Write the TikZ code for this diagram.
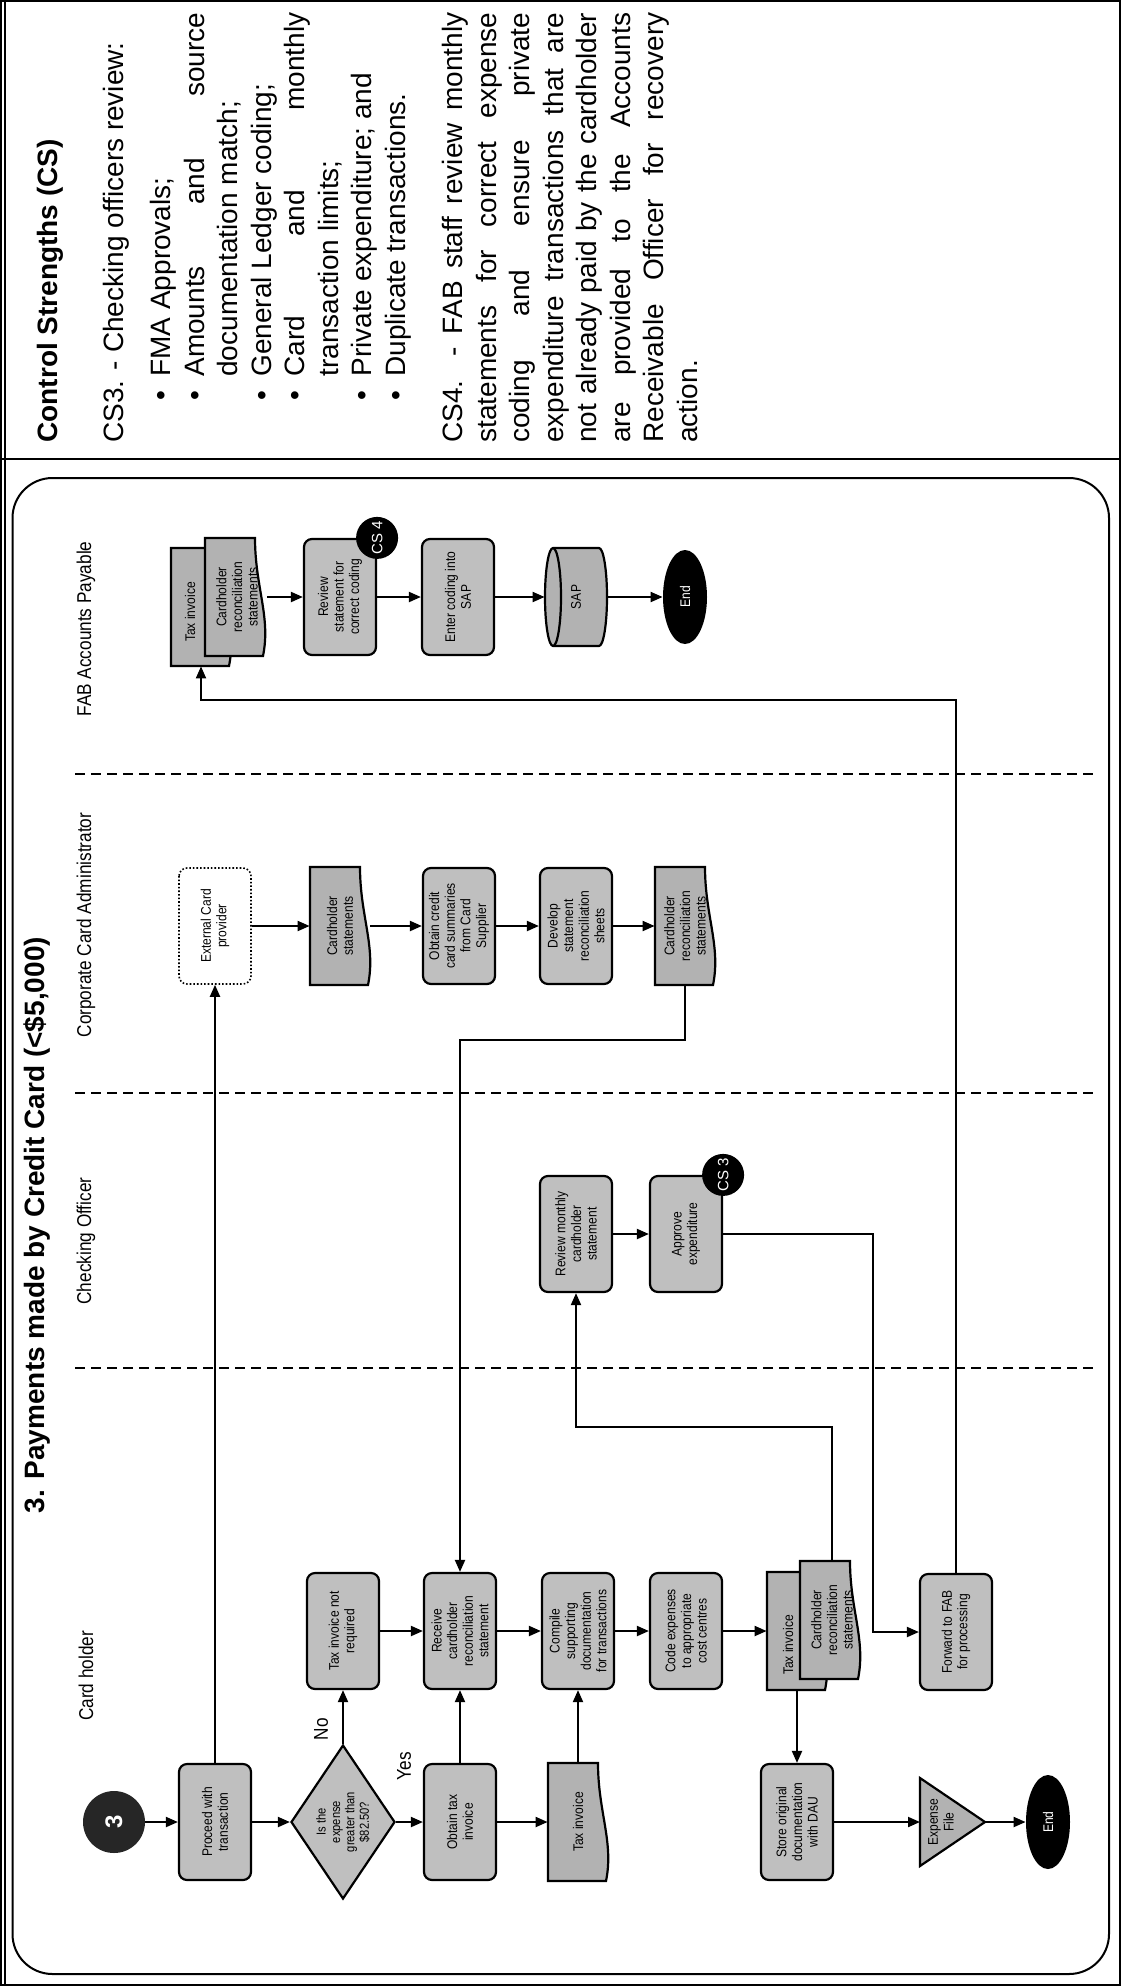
\documentclass[tikz,border=0pt]{standalone}
\usepackage{fontspec}
\setmainfont{Liberation Sans}
\newfontfamily\narrowfont{Liberation Sans}[FakeStretch=0.86]
\usetikzlibrary{arrows.meta,shapes.geometric}

\newcommand{\boxfont}{\narrowfont\fontsize{7}{7.8}\selectfont}
\newcommand{\csitem}[1]{\par{\leftskip=33pt\noindent\llap{\textbullet\hspace{7pt}}#1\par}}

\tikzset{
	docshape/.pic={\draw[docline] (-30,59) -- (-30,-59) -- (20,-59) .. controls (20,-10) and (36,20) .. (28,59) -- cycle;},
	dbshape/.pic={
		\draw[docline] (-23,-49) -- (23,-49) arc[start angle=-90, end angle=90, x radius=8, y radius=49] -- (-23,49) arc[start angle=90, end angle=270, x radius=8, y radius=49] -- cycle;
		\draw[line width=1.1pt] (-23,-49) arc[start angle=-90, end angle=90, x radius=8, y radius=49];
	}
}

\begin{document}
\begin{tikzpicture}[x=0.5pt, y=-0.5pt, >={Triangle[length=6pt,width=5pt]}]
		\tikzstyle{process} = [rectangle, rounded corners=4pt, draw, line width=1.1pt, fill=gray!50, rotate=90, minimum width=58pt, minimum height=36pt, inner sep=1pt, align=center, font=\boxfont]
		\tikzstyle{outside} = [process, fill=white, line width=0.8pt, densely dotted]
		\tikzstyle{decision} = [diamond, aspect=1.5, draw, line width=1.1pt, fill=gray!50, rotate=90, minimum width=77pt, minimum height=52pt, inner sep=0pt, align=center, font=\narrowfont\fontsize{6.5}{7.2}\selectfont]
		\tikzstyle{docnode} = [rotate=90, minimum width=59pt, minimum height=30pt, inner sep=0pt, align=center, font=\boxfont]
		\tikzstyle{docline} = [draw, line width=1.1pt, fill=gray!60]
		\tikzstyle{terminal} = [ellipse, fill=black, text=white, rotate=90, minimum width=47pt, minimum height=22pt, inner sep=0pt, font=\boxfont]
		\tikzstyle{startpoint} = [circle, fill=black!85, text=white, rotate=90, minimum size=31pt, inner sep=0pt, font=\bfseries\fontsize{12}{12}\selectfont]
		\tikzstyle{badge} = [circle, fill=black, text=white, rotate=90, minimum size=21pt, inner sep=0pt, font=\fontsize{7.5}{8}\selectfont]
		\tikzstyle{lanelabel} = [rotate=90, font=\narrowfont\fontsize{10}{12}\selectfont]
		\tikzstyle{smalltext} = [rotate=90, inner sep=0pt, align=center, font=\boxfont]
		\tikzstyle{lane} = [line width=0.9pt, dash pattern=on 5pt off 3pt]
		\tikzstyle{flow} = [->, line width=1pt]

		\useasboundingbox (0,0) rectangle (1121,1986);

		% Page border and the two panels
		\draw[line width=0.8pt] (1,1) rectangle (1120,1985);
		\draw[line width=0.6pt] (5,1) -- (5,1985);
		\draw[line width=0.8pt] (1,459) -- (1120,459);

		% Control strengths
		\node[rotate=90, anchor=north west, inner sep=0pt, text width=215pt, align=justify, font=\fontsize{14}{16.75}\selectfont] (cstext) at (37,443) {%
			\noindent{\bfseries Control Strengths (CS)}\par\vspace{16pt}
			\noindent CS3. - Checking officers review:\par\vspace{7pt}
			\csitem{FMA Approvals;}
			\csitem{Amounts and source\linebreak documentation match;}
			\csitem{General Ledger coding;}
			\csitem{Card and monthly\linebreak transaction limits;}
			\csitem{Private expenditure; and}
			\csitem{Duplicate transactions.}
			\vspace{12pt}
			\noindent CS4. - FAB staff review monthly\linebreak statements for correct expense\linebreak coding and ensure private\linebreak expenditure transactions that are\linebreak not already paid by the cardholder\linebreak are provided to the Accounts\linebreak Receivable Officer for recovery\linebreak action.\par};

		% Process frame and title
		\draw[line width=1pt, rounded corners=20pt] (12.5,478) rectangle (1109,1974);
		\node[rotate=90, font=\bfseries\fontsize{14}{16}\selectfont] (title) at (37,1225) {3. Payments made by Credit Card (<\$5,000)};

		% Swimlanes
		\draw[lane] (75,774) -- (1093,774);
		\draw[lane] (75,1093) -- (1093,1093);
		\draw[lane] (75,1368) -- (1093,1368);
		\node[lanelabel] (laneF) at (86,629) {FAB Accounts Payable};
		\node[lanelabel] (laneC) at (86,925) {Corporate Card Administrator};
		\node[lanelabel] (laneO) at (86,1241) {Checking Officer};
		\node[lanelabel] (laneH) at (86,1676) {Card holder};

		% FAB Accounts Payable
		\pic at (201,607) {docshape};
		\pic at (235,597) {docshape};
		\node[docnode] (backF) at (201,607) {};
		\node[smalltext] (taxF) at (190,612) {Tax invoice};
		\node[docnode] (frontF) at (237,597) {Cardholder\\reconciliation\\statements};
		\node[process] (reviewst) at (340,597) {Review\\statement for\\correct coding};
		\node[badge] (cs4) at (reviewst.south east) {CS 4};
		\node[process] (enter) at (458,597) {Enter coding into\\SAP};
		\pic at (576,597) {dbshape};
		\node[rotate=90, minimum width=49pt, minimum height=31pt, inner sep=0pt, font=\boxfont] (sap) at (576,597) {SAP};
		\node[terminal] (endF) at (685,597) {End};

		% Corporate Card Administrator
		\node[outside] (extcard) at (215,926) {External Card\\provider};
		\pic at (340,926) {docshape};
		\node[docnode] (chstmt) at (340,926) {Cardholder\\statements};
		\node[process] (obtaincc) at (459,926) {Obtain credit\\card summaries\\from Card\\Supplier};
		\node[process] (develop) at (576,926) {Develop\\statement\\reconciliation\\sheets};
		\pic at (685,926) {docshape};
		\node[docnode] (reconC) at (685,926) {Cardholder\\reconciliation\\statements};

		% Checking Officer
		\node[process] (reviewmon) at (576,1234) {Review monthly\\cardholder\\statement};
		\node[process] (approve) at (686,1234) {Approve\\expenditure};
		\node[badge] (cs3) at (approve.south east) {CS 3};

		% Card holder
		\node[startpoint] (start) at (114,1822) {3};
		\node[process] (proceed) at (215,1822) {Proceed with\\transaction};
		\node[decision] (decide) at (343,1822) {Is the\\expense\\greater than\\\$82.50?};
		\node[process] (notreq) at (343,1631) {Tax invoice not\\required};
		\node[process] (obtain) at (460,1822) {Obtain tax\\invoice};
		\node[process] (receive) at (460,1631) {Receive\\cardholder\\reconciliation\\statement};
		\pic at (578,1822) {docshape};
		\node[docnode] (taxinv) at (578,1822) {Tax invoice};
		\node[process] (compile) at (578,1631) {Compile\\supporting\\documentation\\for transactions};
		\node[process] (codeexp) at (686,1631) {Code expenses\\to appropriate\\cost centres};
		\pic at (797,1631) {docshape};
		\pic at (830,1620) {docshape};
		\node[docnode] (backA) at (797,1631) {};
		\node[smalltext] (taxA) at (788,1645) {Tax invoice};
		\node[docnode] (frontA) at (832,1620) {Cardholder\\reconciliation\\statements};
		\node[process] (store) at (797,1822) {Store original\\documentation\\with DAU};
		\node[process] (forward) at (956,1632) {Forward to FAB\\for processing};
		\draw[docline] (920,1778) -- (985,1822) -- (920,1866) -- cycle;
		\node[smalltext] (expfile) at (941,1822) {Expense\\File};
		\coordinate (fileIn) at (920,1822);
		\coordinate (fileTip) at (985,1822);
		\node[terminal] (endA) at (1048,1822) {End};
		\node[lanelabel] (no) at (321,1729) {No};
		\node[lanelabel] (yes) at (404,1766) {Yes};

		% Bends of the long connectors
		\coordinate (bendA) at (700,1427);
		\coordinate (bendB) at (873,1400);
		\coordinate (bendC) at (600,700);
		\coordinate (bendD) at (560,1040);

		% Connectors
		\draw[flow] (start) -- (proceed);
		\draw[flow] (proceed) -- (decide);
		\draw[flow] (decide) -- (obtain);
		\draw[flow] (decide) -- (notreq);
		\draw[flow] (obtain) -- (receive);
		\draw[flow] (obtain) -- (taxinv);
		\draw[flow] (notreq) -- (receive);
		\draw[flow] (receive) -- (compile);
		\draw[flow] (taxinv) -- (compile);
		\draw[flow] (compile) -- (codeexp);
		\draw[flow] (codeexp) -- (backA);
		\draw[flow] (backA) -- (store);
		\draw[flow] (store) -- (fileIn);
		\draw[flow] (fileTip) -- (endA);
		\draw[flow] (frontA) |- (bendA) -| (reviewmon);
		\draw[flow] (reviewmon) -- (approve);
		\draw[flow] (approve) -| (bendB) |- (forward);
		\draw[flow] (forward) |- (bendC) -| (backF);
		\draw[flow] (proceed) -- (extcard);
		\draw[flow] (extcard) -- (chstmt);
		\draw[flow] (chstmt) -- (obtaincc);
		\draw[flow] (obtaincc) -- (develop);
		\draw[flow] (develop) -- (reconC);
		\draw[flow] (reconC) |- (bendD) -| (receive);
		\draw[flow] (frontF) -- (reviewst);
		\draw[flow] (reviewst) -- (enter);
		\draw[flow] (enter) -- (sap);
		\draw[flow] (sap) -- (endF);
	\end{tikzpicture}
\end{document}
